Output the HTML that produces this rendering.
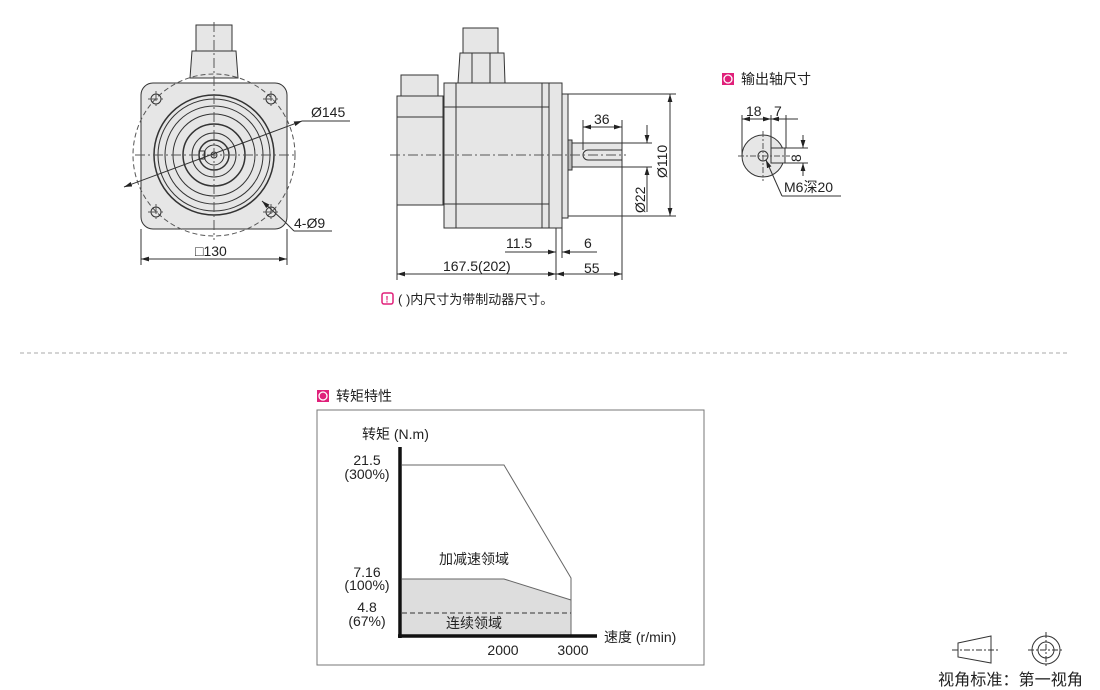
<!DOCTYPE html>
<html><head><meta charset="utf-8"><style>
html,body{margin:0;padding:0;background:#fff;}
svg{display:block;font-family:"Liberation Sans","Noto Sans CJK SC",sans-serif;}
</style></head><body>
<svg width="1100" height="690" viewBox="0 0 1100 690" xmlns="http://www.w3.org/2000/svg">
<defs>
<marker id="a" viewBox="0 0 10 6" refX="10" refY="3" markerWidth="8" markerHeight="5" orient="auto-start-reverse"><path d="M0,0L10,3L0,6z" fill="#222"/></marker>
</defs>
<g stroke="#333" fill="none" stroke-width="1">
<rect x="196" y="25" width="36" height="26" fill="#e6e6e6"/>
<path d="M192,51H236L238,78H190Z" fill="#e6e6e6"/>
<rect x="141" y="83" width="146" height="146" rx="12" fill="#e6e6e6"/>
<circle cx="214" cy="155" r="81" stroke-dasharray="5,3" stroke="#555"/>
<circle cx="214" cy="155" r="60" stroke-width="1.5"/>
<circle cx="214" cy="155" r="56"/>
<circle cx="214" cy="155" r="49"/>
<circle cx="214" cy="155" r="41"/>
<circle cx="214" cy="155" r="31" stroke-width="1.5"/>
<circle cx="214" cy="155" r="22"/>
<circle cx="214" cy="155" r="15" stroke-width="1.5"/>
<circle cx="214" cy="155" r="10"/>
<rect x="199" y="151" width="6" height="8"/>
<circle cx="214" cy="155" r="3"/>
<g>
<circle cx="156" cy="99" r="5"/><circle cx="271" cy="99" r="5"/><circle cx="156" cy="212" r="5"/><circle cx="271" cy="212" r="5"/>
</g>
<g stroke="#555" stroke-dasharray="10,3,2,3">
<line x1="135" y1="155" x2="295" y2="155"/><line x1="214" y1="22" x2="214" y2="240"/>
<line x1="148" y1="99" x2="164" y2="99"/><line x1="156" y1="91" x2="156" y2="107"/>
<line x1="263" y1="99" x2="279" y2="99"/><line x1="271" y1="91" x2="271" y2="107"/>
<line x1="148" y1="212" x2="164" y2="212"/><line x1="156" y1="204" x2="156" y2="220"/>
<line x1="263" y1="212" x2="279" y2="212"/><line x1="271" y1="204" x2="271" y2="220"/>
</g>
<line x1="124" y1="187" x2="302" y2="121" marker-start="url(#a)" marker-end="url(#a)"/>
<line x1="302" y1="121" x2="350" y2="121"/>
<line x1="262" y1="201" x2="285" y2="222" marker-start="url(#a)"/>
<line x1="285" y1="222" x2="294" y2="231"/><line x1="294" y1="231" x2="332" y2="231"/>
<line x1="141" y1="229" x2="141" y2="265"/><line x1="287" y1="229" x2="287" y2="265"/>
<line x1="141" y1="259" x2="287" y2="259" marker-start="url(#a)" marker-end="url(#a)"/>
<rect x="401" y="75" width="37" height="22" fill="#e6e6e6"/>
<rect x="397" y="96" width="46" height="109" fill="#e6e6e6"/>
<line x1="397" y1="117" x2="443" y2="117"/>
<rect x="443" y="106" width="5" height="90" fill="#e6e6e6"/>
<rect x="463" y="28" width="35" height="25" fill="#e6e6e6"/>
<path d="M460,53H504L505,83H458Z" fill="#e6e6e6"/>
<line x1="472" y1="53" x2="472" y2="83"/><line x1="490" y1="53" x2="490" y2="83"/>
<rect x="444" y="83" width="118" height="145" fill="#e6e6e6"/>
<line x1="456" y1="83" x2="456" y2="228"/>
<line x1="542" y1="83" x2="542" y2="228"/><line x1="549" y1="83" x2="549" y2="228"/>
<line x1="444" y1="107" x2="549" y2="107"/><line x1="444" y1="204" x2="549" y2="204"/>
<rect x="562" y="94" width="6" height="124" fill="#e6e6e6"/>
<rect x="568" y="140" width="4" height="30" fill="#bbb"/>
<rect x="572" y="143" width="50" height="24" fill="#e6e6e6"/>
<path d="M622,150H588a5,5 0 0 0 0,10H622"/>
<line x1="390" y1="155" x2="626" y2="155" stroke="#555" stroke-dasharray="10,3,2,3"/>
<line x1="568" y1="94" x2="676" y2="94"/><line x1="568" y1="216" x2="676" y2="216"/>
<line x1="670" y1="94" x2="670" y2="216" marker-start="url(#a)" marker-end="url(#a)"/>
<line x1="622" y1="143" x2="652" y2="143"/><line x1="622" y1="167" x2="652" y2="167"/>
<line x1="647" y1="125" x2="647" y2="143" marker-end="url(#a)"/>
<line x1="647" y1="167" x2="647" y2="212" marker-start="url(#a)"/>
<line x1="583" y1="120" x2="583" y2="150"/><line x1="622" y1="120" x2="622" y2="143"/>
<line x1="583" y1="127" x2="622" y2="127" marker-start="url(#a)" marker-end="url(#a)"/>
<line x1="397" y1="205" x2="397" y2="280"/><line x1="556" y1="228" x2="556" y2="280"/><line x1="562" y1="228" x2="562" y2="258"/><line x1="622" y1="167" x2="622" y2="280"/>
<line x1="505" y1="252" x2="556" y2="252" marker-end="url(#a)"/>
<line x1="562" y1="252" x2="597" y2="252" marker-start="url(#a)"/>
<line x1="397" y1="274" x2="556" y2="274" marker-start="url(#a)" marker-end="url(#a)"/>
<line x1="556" y1="274" x2="622" y2="274" marker-start="url(#a)" marker-end="url(#a)"/>
<circle cx="763" cy="156" r="21" fill="#e6e6e6"/>
<rect x="771" y="148" width="14" height="15" fill="#e6e6e6"/>
<circle cx="763" cy="156" r="5"/>
<g stroke="#555" stroke-dasharray="6,2,2,2"><line x1="738" y1="156" x2="790" y2="156"/><line x1="763" y1="131" x2="763" y2="181"/></g>
<line x1="742" y1="115" x2="742" y2="156"/><line x1="771" y1="115" x2="771" y2="148"/><line x1="786" y1="115" x2="786" y2="148"/>
<line x1="742" y1="119" x2="771" y2="119" marker-start="url(#a)" marker-end="url(#a)"/>
<line x1="771" y1="119" x2="786" y2="119" marker-start="url(#a)"/>
<line x1="786" y1="119" x2="798" y2="119"/>
<line x1="785" y1="148" x2="808" y2="148"/><line x1="785" y1="163" x2="808" y2="163"/>
<line x1="803" y1="135" x2="803" y2="148" marker-end="url(#a)"/><line x1="803" y1="163" x2="803" y2="176" marker-start="url(#a)"/>
<line x1="766" y1="160" x2="782" y2="196" marker-start="url(#a)"/><line x1="782" y1="196" x2="841" y2="196"/>
</g>
<g font-size="14" fill="#222">
<text x="311" y="117">Ø145</text>
<text x="294" y="228">4-Ø9</text>
<text x="195" y="256">□130</text>
<text x="594" y="124">36</text>
<text x="506" y="248">11.5</text>
<text x="584" y="248">6</text>
<text x="443" y="271">167.5(202)</text>
<text x="584" y="273">55</text>
<text transform="translate(667,178) rotate(-90)">Ø110</text>
<text transform="translate(645,213) rotate(-90)">Ø22</text>
<text x="746" y="116">18</text><text x="774" y="116">7</text>
<text transform="translate(801,162) rotate(-90)">8</text>
<text x="784" y="192">M6深20</text>
</g>
<rect x="722" y="73" width="12" height="12" fill="#e0207a"/><circle cx="728" cy="79" r="4" fill="none" stroke="#fff" stroke-width="1.3"/>
<text x="741" y="84" font-size="14" fill="#222">输出轴尺寸</text>
<rect x="382" y="293" width="11" height="11" rx="2" fill="none" stroke="#e0207a" stroke-width="1.5"/>
<text x="385.5" y="302.5" font-size="9" font-weight="bold" fill="#e0207a">!</text>
<text x="398" y="304" font-size="13" fill="#222">( )内尺寸为带制动器尺寸。</text>
<line x1="20" y1="353" x2="1070" y2="353" stroke="#aaa" stroke-dasharray="4,3"/>
<rect x="317" y="390" width="12" height="12" fill="#e0207a"/><circle cx="323" cy="396" r="4" fill="none" stroke="#fff" stroke-width="1.3"/>
<text x="336" y="401" font-size="14" fill="#222">转矩特性</text>
<rect x="317" y="410" width="387" height="255" fill="none" stroke="#777"/>
<path d="M402,579H504L571,600V636H402Z" fill="#ddd"/>
<g stroke="#666" fill="none">
<path d="M402,465H504L571,578V636"/>
<path d="M402,579H504L571,600"/>
<line x1="402" y1="613" x2="571" y2="613" stroke="#333" stroke-dasharray="5,3"/>
</g>
<line x1="400" y1="447" x2="400" y2="638" stroke="#111" stroke-width="3.5"/>
<line x1="398" y1="636" x2="597" y2="636" stroke="#111" stroke-width="3.5"/>
<g font-size="14" fill="#222" text-anchor="middle">
<text x="362" y="439" text-anchor="start">转矩 (N.m)</text>
<text x="367" y="465">21.5</text><text x="367" y="479">(300%)</text>
<text x="367" y="577">7.16</text><text x="367" y="590">(100%)</text>
<text x="367" y="612">4.8</text><text x="367" y="626">(67%)</text>
<text x="474" y="564">加减速领域</text>
<text x="474" y="628">连续领域</text>
<text x="503" y="655">2000</text><text x="573" y="655">3000</text>
<text x="604" y="642" text-anchor="start">速度 (r/min)</text>
</g>
<g stroke="#333" fill="none">
<path d="M958,643L991,636V663L958,657Z"/>
<line x1="952" y1="650" x2="998" y2="650" stroke-dasharray="6,2,2,2"/>
<circle cx="1046" cy="650" r="14"/><circle cx="1046" cy="650" r="8"/>
<line x1="1028" y1="650" x2="1064" y2="650" stroke-dasharray="6,2,2,2"/><line x1="1046" y1="632" x2="1046" y2="668" stroke-dasharray="6,2,2,2"/>
</g>
<text x="938" y="685" font-size="16" fill="#222" textLength="145" lengthAdjust="spacingAndGlyphs">视角标准：第一视角</text>
</svg>
</body></html>
